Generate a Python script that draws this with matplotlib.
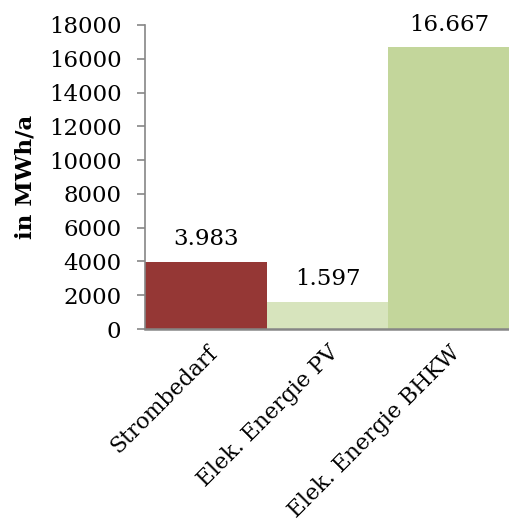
import matplotlib
matplotlib.use("Agg")
import matplotlib.pyplot as plt

categories = ["Strombedarf", "Elek. Energie PV", "Elek. Energie BHKW"]
values = [3983, 1597, 16667]
value_labels = ["3.983", "1.597", "16.667"]
bar_colors = ["#953735", "#D7E4BD", "#C3D69B"]
y_ticks = [0, 2000, 4000, 6000, 8000, 10000, 12000, 14000, 16000, 18000]

plt.rcParams["font.family"] = ["DejaVu Serif"]
FS = 16.5

fig = plt.figure(figsize=(5.10, 5.27), dpi=100)
ax = fig.add_axes([0.2843, 0.3757, 0.7157, 0.5769])

x = list(range(len(categories)))
ax.bar(x, values, width=1.0, color=bar_colors, edgecolor="none")
ax.set_xlim(-0.5, 2.5)
ax.set_ylim(0, 18000)

for xi, v, lab in zip(x, values, value_labels):
    ax.annotate(lab, (xi, v), xytext=(0, 8.5), textcoords="offset points",
                ha="center", va="bottom", fontsize=FS, color="#000000")

ax.set_yticks(y_ticks)
ax.set_yticklabels([str(t) for t in y_ticks], fontsize=FS)
ax.set_xticks(x)
ax.set_xticklabels(categories, rotation=45, ha="right", rotation_mode="anchor",
                   fontsize=15.8)
ax.tick_params(axis="x", length=0, pad=9)
ax.tick_params(axis="y", length=6, width=1.2, color="#868686", pad=11)

ax.set_ylabel("in MWh/a", fontsize=FS, fontweight="bold", labelpad=9)

for side in ("top", "right"):
    ax.spines[side].set_visible(False)
ax.spines["left"].set_color("#868686")
ax.spines["left"].set_linewidth(1.2)
ax.spines["bottom"].set_color("#868686")
ax.spines["bottom"].set_linewidth(1.8)

fig.savefig("out.png", dpi=100)
